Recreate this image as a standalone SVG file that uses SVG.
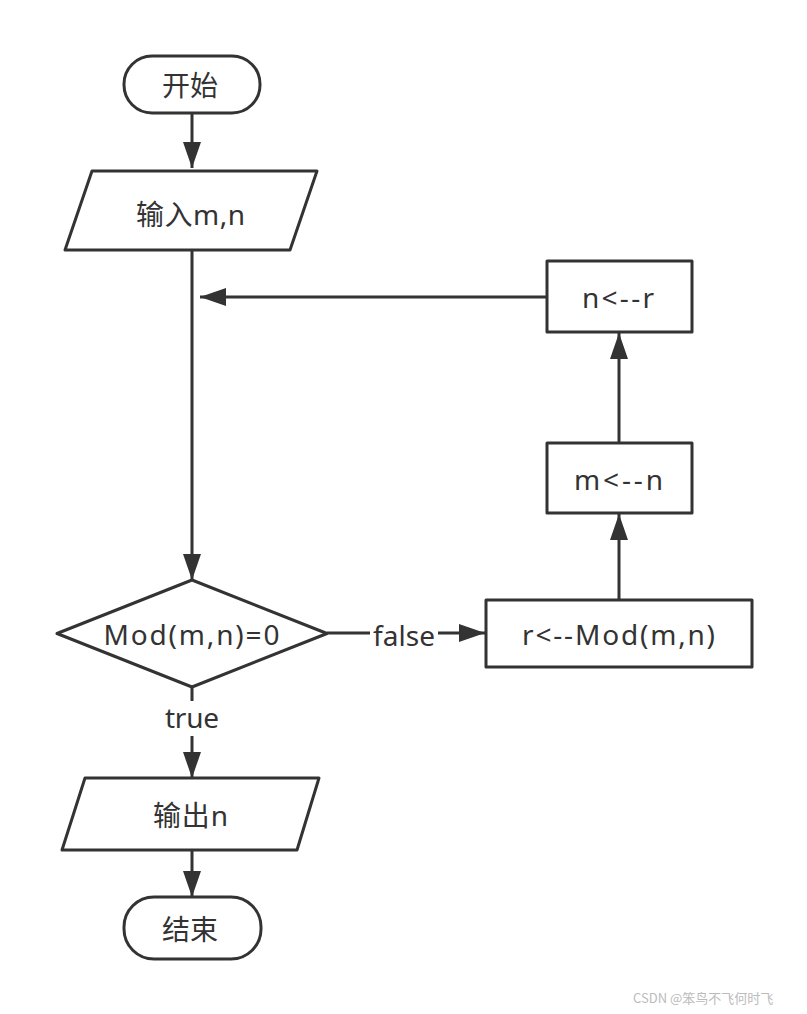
<svg xmlns="http://www.w3.org/2000/svg" width="807" height="1014" viewBox="0 0 807 1014">
<style>
.shape{fill:#fff;stroke:#333;stroke-width:3;stroke-linejoin:round}
.t{font-family:"Noto Sans","Noto Sans CJK SC",sans-serif;font-size:28px;fill:#333;text-anchor:middle;dominant-baseline:central}
.c{fill:none;stroke:#333;stroke-width:3}
.wm{font-family:"Noto Sans CJK SC",sans-serif;font-size:13px;fill:#bbb}
</style>
<defs>
<marker id="ah" markerUnits="userSpaceOnUse" markerWidth="28" markerHeight="20" viewBox="0 0 28 20" refX="26" refY="10" orient="auto">
<path d="M0,1 L26,10 L0,19 Z" fill="#333"/>
</marker>
</defs>
<rect width="807" height="1014" fill="#fff"/>
<g id="connectors">
<line class="c" x1="192" y1="113" x2="192" y2="168" marker-end="url(#ah)"/>
<line class="c" x1="192" y1="250" x2="192" y2="580" marker-end="url(#ah)"/>
<line class="c" x1="327" y1="633" x2="370" y2="633"/>
<line class="c" x1="438" y1="633" x2="485" y2="633" marker-end="url(#ah)"/>
<line class="c" x1="192" y1="687" x2="192" y2="701"/>
<line class="c" x1="192" y1="736" x2="192" y2="778" marker-end="url(#ah)"/>
<line class="c" x1="192" y1="850" x2="192" y2="897" marker-end="url(#ah)"/>
<line class="c" x1="619" y1="600" x2="619" y2="514" marker-end="url(#ah)"/>
<line class="c" x1="619" y1="443" x2="619" y2="333" marker-end="url(#ah)"/>
<line class="c" x1="547" y1="297" x2="200" y2="297" marker-end="url(#ah)"/>
<text class="t" x="404" y="635" textLength="62" lengthAdjust="spacing">false</text>
<text class="t" x="192" y="717" textLength="54" lengthAdjust="spacing">true</text>
</g>
<g id="start">
<rect class="shape" x="124" y="56" width="136" height="57" rx="28"/>
<text class="t" x="190" y="85" textLength="56" lengthAdjust="spacing">开始</text>
</g>
<g id="input">
<polygon class="shape" points="92,171 317,171 290,250 65,250"/>
<text class="t" x="190.5" y="214" textLength="109" lengthAdjust="spacing">输入m,n</text>
</g>
<g id="decision">
<polygon class="shape" points="192,580 327,633.5 192,687 57,633.5"/>
<text class="t" x="191.5" y="634" textLength="176" lengthAdjust="spacing">Mod(m,n)=0</text>
</g>
<g id="mod">
<rect class="shape" x="486" y="600" width="266" height="67"/>
<text class="t" x="618.5" y="634" textLength="193" lengthAdjust="spacing">r&lt;--Mod(m,n)</text>
</g>
<g id="mn">
<rect class="shape" x="547" y="443" width="145" height="70"/>
<text class="t" x="618.5" y="479" textLength="89" lengthAdjust="spacing">m&lt;--n</text>
</g>
<g id="nr">
<rect class="shape" x="547" y="261" width="145" height="71"/>
<text class="t" x="618" y="297" textLength="72" lengthAdjust="spacing">n&lt;--r</text>
</g>
<g id="output">
<polygon class="shape" points="85,778 319,778 297,850 62,850"/>
<text class="t" x="190.5" y="815" textLength="75" lengthAdjust="spacing">输出n</text>
</g>
<g id="end">
<rect class="shape" x="124" y="897" width="137" height="62" rx="30"/>
<text class="t" x="190" y="929" textLength="56" lengthAdjust="spacing">结束</text>
</g>
<text class="wm" x="633" y="1003">CSDN @笨鸟不飞何时飞</text>
</svg>
